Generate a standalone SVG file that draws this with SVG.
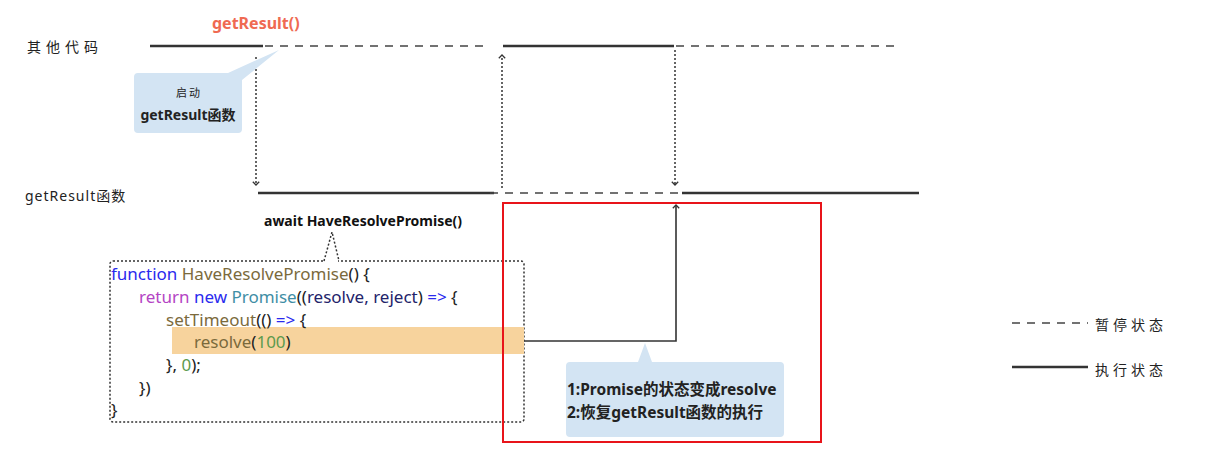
<svg xmlns="http://www.w3.org/2000/svg" width="1210" height="468" viewBox="0 0 1210 468">
<style>
text{font-family:"Noto Sans","Noto Sans CJK SC",sans-serif;}
.solid{stroke:#333;stroke-width:2.5;fill:none;}
.dash{stroke:#444;stroke-width:1.5;stroke-dasharray:8,7;fill:none;}
.dot{stroke:#333;stroke-width:1.5;stroke-dasharray:2,2;fill:none;}
.lbl{font-size:14px;fill:#222;}
.code{font-size:17px;fill:#222;}
.kw{fill:#2a2aee;}
.fn{fill:#7b6a3c;}
.pu{fill:#b444c4;}
.tl{fill:#3f8ea5;}
.nv{fill:#23236a;}
.nm{fill:#5c9a4e;}
.callout{fill:#d3e4f3;}
</style>
<defs>
<marker id="arr" viewBox="0 0 10 10" refX="5" refY="5" markerWidth="8" markerHeight="8" orient="auto-start-reverse" markerUnits="userSpaceOnUse">
<path d="M1,1 L5,5 L1,9" fill="none" stroke="#333" stroke-width="1.6"/>
</marker>
</defs>
<rect width="1210" height="468" fill="#fff"/>

<g id="labels">
<text x="27" y="52" class="lbl" font-size="16" letter-spacing="5">其他代码</text>
<text x="25" y="201" class="lbl" letter-spacing="1">getResult函数</text>
<text x="212" y="29" font-size="16" font-weight="bold" fill="#ef6a52">getResult()</text>
<text x="264" y="226" font-size="14" font-weight="bold" fill="#111">await HaveResolvePromise()</text>
</g>

<g id="timeline-other">
<line x1="150" y1="46" x2="263" y2="46" class="solid"/>
<line x1="265" y1="46" x2="488" y2="46" class="dash"/>
<line x1="503" y1="46" x2="674" y2="46" class="solid"/>
<line x1="676" y1="46" x2="898" y2="46" class="dash"/>
</g>

<g id="timeline-getresult">
<line x1="258" y1="193" x2="494" y2="193" class="solid"/>
<line x1="490" y1="193" x2="680" y2="193" class="dash" stroke-dasharray="0,10,8,4"/>
<line x1="682" y1="193" x2="919" y2="193" class="solid"/>
</g>

<g id="connectors">
<line x1="256" y1="57" x2="256" y2="185" class="dot" marker-end="url(#arr)"/>
<line x1="502" y1="188" x2="502" y2="55" class="dot" marker-end="url(#arr)"/>
<line x1="675" y1="50" x2="675" y2="185" class="dot" marker-end="url(#arr)"/>
<polyline points="524,341 676,341 676,205" fill="none" stroke="#333" stroke-width="1.6" marker-end="url(#arr)"/>
</g>

<g id="callout-start">
<path d="M138,73 L228,73 L279,50 L242,80 L242,129 Q242,133 238,133 L138,133 Q134,133 134,129 L134,77 Q134,73 138,73 Z" class="callout"/>
<text x="189" y="97" font-size="11" text-anchor="middle" fill="#222" letter-spacing="2">启动</text>
<text x="188" y="120" font-size="14" font-weight="bold" text-anchor="middle" fill="#222">getResult函数</text>
</g>

<g id="code-box">
<rect x="110" y="261" width="414" height="161" rx="3" class="dot"/>
<path d="M324,261 L332,232 L339,261" class="dot"/>
<line x1="325" y1="261" x2="338" y2="261" stroke="#fff" stroke-width="3"/>
<rect x="172" y="327" width="352" height="27" fill="#f7d39d"/>
<text class="code" x="111" y="280"><tspan class="kw">function</tspan> <tspan class="fn">HaveResolvePromise</tspan>() {</text>
<text class="code" x="139" y="303"><tspan class="pu">return</tspan> <tspan class="kw">new</tspan> <tspan class="tl">Promise</tspan>((<tspan class="nv">resolve, reject</tspan>) <tspan class="kw">=&gt;</tspan> {</text>
<text class="code" x="166" y="326"><tspan class="fn">setTimeout</tspan>(() <tspan class="kw">=&gt;</tspan> {</text>
<text class="code" x="194" y="348"><tspan class="fn">resolve</tspan>(<tspan class="nm">100</tspan>)</text>
<text class="code" x="166" y="371">}, <tspan class="nm">0</tspan>);</text>
<text class="code" x="139" y="394">})</text>
<text class="code" x="111" y="416">}</text>
</g>

<g id="resolve-area">
<rect x="503" y="203" width="318" height="239" fill="none" stroke="#e8141a" stroke-width="2"/>
</g>

<g id="callout-resolve">
<path d="M570,362 L638,362 L645,343 L652,362 L780,362 Q784,362 784,366 L784,433 Q784,437 780,437 L570,437 Q566,437 566,433 L566,366 Q566,362 570,362 Z" class="callout"/>
<text x="567" y="395" font-size="15.5" font-weight="bold" fill="#222">1:Promise的状态变成resolve</text>
<text x="567" y="418" font-size="15.5" font-weight="bold" fill="#222">2:恢复getResult函数的执行</text>
</g>

<g id="legend">
<line x1="1012" y1="323" x2="1088" y2="323" class="dash" stroke-dasharray="7,6"/>
<text x="1095" y="330" class="lbl" font-size="16" letter-spacing="4">暂停状态</text>
<line x1="1012" y1="367" x2="1088" y2="367" class="solid"/>
<text x="1095" y="375" class="lbl" font-size="16" letter-spacing="4">执行状态</text>
</g>
</svg>
